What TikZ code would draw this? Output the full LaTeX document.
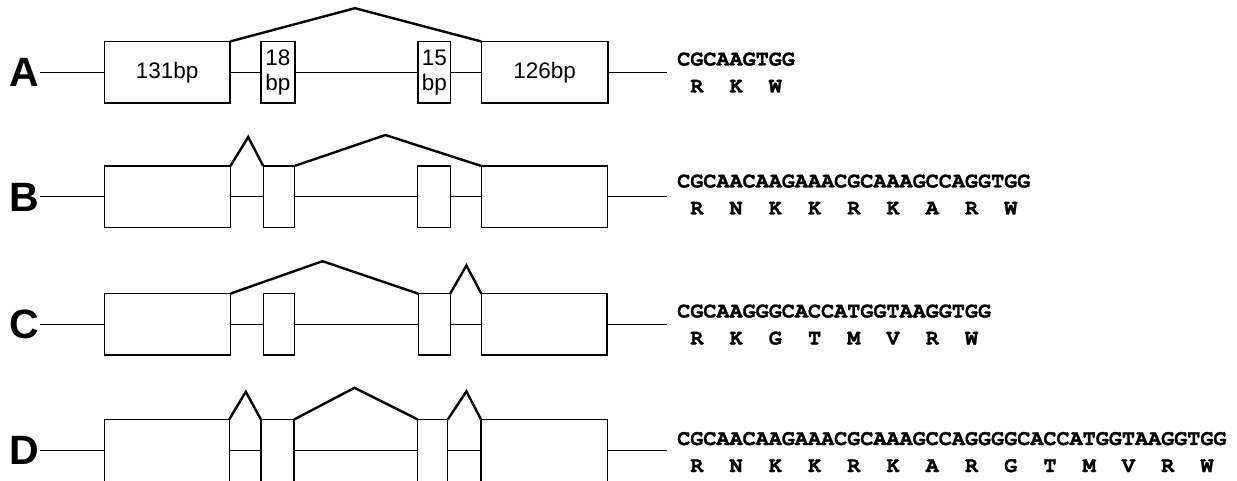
\documentclass[tikz,border=0pt]{standalone}
\usepackage{fontspec}
\setmainfont{Liberation Sans}
\newfontfamily\seqfont{texgyrecursor}[Extension=.otf, UprightFont=*-regular, BoldFont=*-bold, BoldFeatures={FakeBold=1.2}]
\newcommand\aacod[1]{\makebox[1.8em][c]{#1}}
\begin{document}
\begin{tikzpicture}[x=1pt,y=-1pt,
  exon/.style={draw, line width=1.3pt, inner sep=0pt, outer sep=0pt, font=\fontsize{22.5}{25}\selectfont, align=center},
  dexon/.style={inner sep=0pt, outer sep=0pt},
  boxline/.style={line width=1.3pt},
  intron/.style={line width=1.4pt},
  splice/.style={line width=2.4pt, line join=miter},
  rowlabel/.style={font=\fontsize{41}{41}\selectfont\bfseries, inner sep=0pt, outer sep=1pt, anchor=east, text height=29pt, text depth=0pt},
  seq/.style={font=\seqfont\bfseries\fontsize{21.8}{22}\selectfont, inner sep=0pt, anchor=west, text height=13pt, text depth=0pt},
]
\useasboundingbox (0,0) rectangle (1237,481);

% ---------- Row A ----------
\node[rowlabel] (la) at (40,72.25) {A};
\node[exon, minimum width=125.7pt, minimum height=61.5pt] (a1) at (167.15,72.25) {131bp};
\node[exon, minimum width=34pt, minimum height=61.5pt] (a2) at (278,72.25) {18\\bp};
\node[exon, minimum width=32.6pt, minimum height=61.5pt] (a3) at (434.3,72.25) {15\\bp};
\node[exon, minimum width=126.5pt, minimum height=61.5pt] (a4) at (544.65,72.25) {126bp};
\coordinate (ae) at (667,72.25);
\coordinate (ap) at (355,8.2);
\draw[intron] (la.east) -- (a1.west);
\draw[intron] (a1.east) -- (a2.west);
\draw[intron] (a2.east) -- (a3.west);
\draw[intron] (a3.east) -- (a4.west);
\draw[intron] (a4.east) -- (ae);
\draw[splice] (a1.north east) -- (ap) -- (a4.north west);
\node[seq] (as) at (677,59) {CGCAAGTGG};
\node[seq] (aa) at (677,86) {\aacod{R}\aacod{K}\aacod{W}};

% ---------- Row B ----------
\node[rowlabel] (lb) at (40,196.75) {B};
\node[exon, minimum width=126.1pt, minimum height=61.5pt] (b1) at (167.35,196.75) {};
\node[exon, minimum width=31.3pt, minimum height=61.5pt] (b2) at (278.85,196.75) {};
\node[exon, minimum width=32.4pt, minimum height=61.5pt] (b3) at (434,196.75) {};
\node[exon, minimum width=126.1pt, minimum height=61.5pt] (b4) at (544.45,196.75) {};
\coordinate (be) at (667,196.75);
\coordinate (bp1) at (248.2,137);
\coordinate (bp2) at (385.4,135);
\draw[intron] (lb.east) -- (b1.west);
\draw[intron] (b1.east) -- (b2.west);
\draw[intron] (b2.east) -- (b3.west);
\draw[intron] (b3.east) -- (b4.west);
\draw[intron] (b4.east) -- (be);
\draw[splice] (b1.north east) -- (bp1) -- (b2.north west);
\draw[splice] (b2.north east) -- (bp2) -- (b4.north west);
\node[seq] (bs) at (677,181) {CGCAACAAGAAACGCAAAGCCAGGTGG};
\node[seq] (ba) at (677,208) {\aacod{R}\aacod{N}\aacod{K}\aacod{K}\aacod{R}\aacod{K}\aacod{A}\aacod{R}\aacod{W}};

% ---------- Row C ----------
\node[rowlabel] (lc) at (40,324.25) {C};
\node[exon, minimum width=126.1pt, minimum height=61.2pt] (c1) at (167.35,324.25) {};
\node[exon, minimum width=31.3pt, minimum height=61.2pt] (c2) at (278.85,324.25) {};
\node[exon, minimum width=32pt, minimum height=61.2pt] (c3) at (434.2,324.25) {};
\node[exon, minimum width=125.7pt, minimum height=61.2pt] (c4) at (544.25,324.25) {};
\coordinate (ce) at (667,324.25);
\coordinate (cp1) at (322.5,261.2);
\coordinate (cp2) at (466.4,265.5);
\draw[intron] (lc.east) -- (c1.west);
\draw[intron] (c1.east) -- (c2.west);
\draw[intron] (c2.east) -- (c3.west);
\draw[intron] (c3.east) -- (c4.west);
\draw[intron] (c4.east) -- (ce);
\draw[splice] (c1.north east) -- (cp1) -- (c3.north west);
\draw[splice] (c3.north east) -- (cp2) -- (c4.north west);
\node[seq] (cs) at (677,311) {CGCAAGGGCACCATGGTAAGGTGG};
\node[seq] (ca) at (677,338) {\aacod{R}\aacod{K}\aacod{G}\aacod{T}\aacod{M}\aacod{V}\aacod{R}\aacod{W}};

% ---------- Row D ----------
\node[rowlabel] (ld) at (40,450.25) {D};
\node[dexon, minimum width=124.9pt, minimum height=61.5pt] (d1) at (166.75,450.25) {};
\node[dexon, minimum width=33.2pt, minimum height=61.5pt] (d2) at (277.5,450.25) {};
\node[dexon, minimum width=30pt, minimum height=61.5pt] (d3) at (432.8,450.25) {};
\node[dexon, minimum width=126.5pt, minimum height=61.5pt] (d4) at (544.25,450.25) {};
\foreach \n in {d1,d2,d3,d4}{
  \draw[boxline] (\n.south west) -- (\n.north west) -- (\n.north east) -- (\n.south east);
}
\coordinate (de) at (667,450.25);
\coordinate (dp1) at (245.8,391.7);
\coordinate (dp2) at (354.5,387.8);
\coordinate (dp3) at (466.4,391.4);
\draw[intron] (ld.east) -- (d1.west);
\draw[intron] (d1.east) -- (d2.west);
\draw[intron] (d2.east) -- (d3.west);
\draw[intron] (d3.east) -- (d4.west);
\draw[intron] (d4.east) -- (de);
\draw[splice] (d1.north east) -- (dp1) -- (d2.north west);
\draw[splice] (d2.north east) -- (dp2) -- (d3.north west);
\draw[splice] (d3.north east) -- (dp3) -- (d4.north west);
\node[seq] (ds) at (677,438.5) {CGCAACAAGAAACGCAAAGCCAGGGGCACCATGGTAAGGTGG};
\node[seq] (da) at (677,465.5) {\aacod{R}\aacod{N}\aacod{K}\aacod{K}\aacod{R}\aacod{K}\aacod{A}\aacod{R}\aacod{G}\aacod{T}\aacod{M}\aacod{V}\aacod{R}\aacod{W}};
\end{tikzpicture}
\end{document}
